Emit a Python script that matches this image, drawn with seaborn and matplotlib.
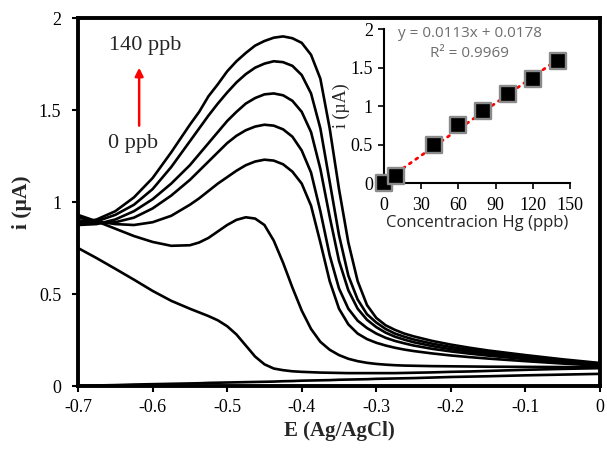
import numpy as np
import pandas as pd
import matplotlib
matplotlib.use("Agg")
import matplotlib.pyplot as plt
import seaborn as sns

# potential grid (V vs Ag/AgCl), finer around the stripping peak
potential = [-0.7, -0.675, -0.65, -0.625, -0.6, -0.575, -0.55,
             -0.5375, -0.525, -0.5125, -0.5, -0.4875, -0.475, -0.4625, -0.45,
             -0.4375, -0.425, -0.4125, -0.4, -0.3875, -0.375, -0.3625, -0.35,
             -0.3375, -0.325, -0.3125, -0.3, -0.2875, -0.275, -0.2625, -0.25,
             -0.225, -0.2, -0.175, -0.15, -0.1, -0.05, 0.0]

# current (uA) for each scan
i_140 = [0.885, 0.905, 0.95, 1.025, 1.13, 1.27, 1.42,
         1.49, 1.575, 1.64, 1.71, 1.765, 1.81, 1.85, 1.875,
         1.893, 1.90, 1.89, 1.865, 1.80, 1.67, 1.40, 1.07,
         0.78, 0.57, 0.44, 0.37, 0.33, 0.305, 0.285, 0.27,
         0.245, 0.225, 0.208, 0.193, 0.168, 0.145, 0.125]
i_120 = [0.88, 0.895, 0.93, 0.985, 1.07, 1.19, 1.33,
         1.40, 1.47, 1.535, 1.595, 1.65, 1.695, 1.73, 1.752,
         1.765, 1.76, 1.74, 1.69, 1.59, 1.40, 1.11, 0.82,
         0.60, 0.47, 0.39, 0.345, 0.31, 0.285, 0.268, 0.253,
         0.23, 0.212, 0.197, 0.184, 0.16, 0.14, 0.122]
i_100 = [0.875, 0.88, 0.905, 0.95, 1.015, 1.10, 1.20,
         1.26, 1.32, 1.38, 1.44, 1.49, 1.535, 1.565, 1.585,
         1.59, 1.58, 1.55, 1.49, 1.38, 1.18, 0.92, 0.68,
         0.52, 0.42, 0.36, 0.32, 0.29, 0.268, 0.252, 0.238,
         0.217, 0.20, 0.187, 0.175, 0.153, 0.135, 0.118]
i_80 = [0.90, 0.885, 0.89, 0.915, 0.965, 1.035, 1.12,
        1.17, 1.22, 1.27, 1.32, 1.36, 1.39, 1.41, 1.42,
        1.415, 1.395, 1.355, 1.28, 1.16, 0.95, 0.71, 0.53,
        0.42, 0.355, 0.315, 0.285, 0.262, 0.245, 0.232, 0.22,
        0.202, 0.188, 0.176, 0.165, 0.146, 0.13, 0.115]
i_60 = [0.915, 0.895, 0.88, 0.875, 0.89, 0.925, 0.985,
        1.02, 1.06, 1.10, 1.135, 1.17, 1.20, 1.22, 1.23,
        1.225, 1.205, 1.165, 1.10, 0.98, 0.78, 0.57, 0.42,
        0.335, 0.285, 0.255, 0.235, 0.22, 0.208, 0.198, 0.19,
        0.177, 0.166, 0.157, 0.149, 0.135, 0.122, 0.11]
i_40 = [0.93, 0.895, 0.855, 0.815, 0.783, 0.762, 0.765,
        0.78, 0.805, 0.84, 0.875, 0.903, 0.917, 0.91, 0.875,
        0.79, 0.67, 0.535, 0.41, 0.31, 0.24, 0.197, 0.168,
        0.148, 0.135, 0.126, 0.12, 0.116, 0.113, 0.111, 0.11,
        0.108, 0.107, 0.106, 0.105, 0.104, 0.103, 0.102]
i_0 = [0.75, 0.695, 0.637, 0.578, 0.517, 0.463, 0.42,
       0.40, 0.38, 0.357, 0.325, 0.28, 0.22, 0.16, 0.118,
       0.095, 0.086, 0.08, 0.077, 0.075, 0.073, 0.072, 0.071,
       0.07, 0.07, 0.07, 0.07, 0.07, 0.07, 0.071, 0.072,
       0.074, 0.077, 0.079, 0.082, 0.088, 0.093, 0.097]
i_base = [0.0, 0.003, 0.005, 0.008, 0.010, 0.012, 0.014,
          0.015, 0.017, 0.018, 0.019, 0.020, 0.021, 0.022, 0.023,
          0.024, 0.026, 0.027, 0.029, 0.030, 0.031, 0.032, 0.034,
          0.035, 0.036, 0.037, 0.039, 0.040, 0.041, 0.042, 0.043,
          0.046, 0.049, 0.051, 0.053, 0.058, 0.062, 0.066]

scans = {"140": i_140, "120": i_120, "100": i_100, "80": i_80,
         "60": i_60, "40": i_40, "0": i_0, "base": i_base}

# calibration (inset)
conc_ppb = [0, 10, 40, 60, 80, 100, 120, 140]
peak_current = [0.0, 0.09, 0.50, 0.75, 0.94, 1.15, 1.35, 1.59]

x_ticks = [-0.7, -0.6, -0.5, -0.4, -0.3, -0.2, -0.1, 0.0]
x_ticklabels = ["-0.7", "-0.6", "-0.5", "-0.4", "-0.3", "-0.2", "-0.1", "0"]
y_ticks = [0, 0.5, 1, 1.5, 2]
y_ticklabels = ["0", "0.5", "1", "1.5", "2"]
inset_xticks = [0, 30, 60, 90, 120, 150]

for k, v in scans.items():
    assert len(v) == len(potential), k

df = pd.concat([pd.DataFrame({"E": potential, "i": v, "scan": k})
                for k, v in scans.items()], ignore_index=True)
cal = pd.DataFrame({"conc": conc_ppb, "i": peak_current})

sns.set_theme(style="white")
plt.rcParams["font.family"] = ["Liberation Serif", "DejaVu Serif"]

fig = plt.figure(figsize=(6.07, 4.49), dpi=100)
ax = fig.add_axes([0.1285, 0.1403, 0.86, 0.8196])

sns.lineplot(data=df, x="E", y="i", hue="scan", palette=["black"] * len(scans),
             sort=False, estimator=None, legend=False, linewidth=1.9, ax=ax)
for ln in ax.lines:
    ln.set_solid_joinstyle("round")

ax.set_xlim(-0.7, 0.0)
ax.set_ylim(0, 2)
ax.set_xticks(x_ticks)
ax.set_xticklabels(x_ticklabels)
ax.set_yticks(y_ticks)
ax.set_yticklabels(y_ticklabels)
ax.tick_params(axis="x", direction="out", length=4, width=1.5, labelsize=13,
               pad=5, bottom=True, colors="black")
ax.tick_params(axis="y", direction="out", length=4, width=1.5, labelsize=13,
               pad=8, left=True, colors="black")
for side in ax.spines.values():
    side.set_linewidth(2.8)
    side.set_color("black")
ax.set_xlabel("E (Ag/AgCl)", fontsize=15, fontweight="bold", labelpad=4)
ax.set_ylabel("i (µA)", fontsize=15.5, fontweight="bold", labelpad=5)

# concentration arrow
ax.annotate("", xy=(-0.618, 1.745), xytext=(-0.618, 1.40),
            arrowprops=dict(arrowstyle="-|>", color="red", lw=1.8,
                            mutation_scale=12))
ax.text(-0.610, 1.848, "140 ppb", fontsize=16, ha="center", va="center")
ax.text(-0.626, 1.32, "0 ppb", fontsize=16, ha="center", va="center")

# inset calibration plot
ins = fig.add_axes([0.6326, 0.5924, 0.3064, 0.343])
ins.set_facecolor("white")
sns.regplot(data=cal, x="conc", y="i", scatter=False, ci=None, ax=ins,
            line_kws=dict(color="red", linestyle=(0, (0.8, 2.0)), linewidth=2,
                          dash_capstyle="round"))
sns.scatterplot(data=cal, x="conc", y="i", marker="s", s=130, color="black",
                edgecolor="#8a8a8a", linewidth=1.7, ax=ins, zorder=3,
                clip_on=False)
ins.set_xlim(0, 150)
ins.set_ylim(0, 2)
ins.set_xticks(inset_xticks)
ins.set_yticks(y_ticks)
ins.set_yticklabels(y_ticklabels)
ins.tick_params(axis="x", direction="out", length=4, width=1.2, labelsize=13,
                bottom=True, colors="black", pad=6)
ins.tick_params(axis="y", direction="out", length=4, width=1.2, labelsize=13,
                left=True, colors="black", pad=4)
sns.despine(ax=ins)
for s in ["left", "bottom"]:
    ins.spines[s].set_linewidth(1.5)
    ins.spines[s].set_color("black")
ins.set_xlabel("Concentracion Hg (ppb)", fontsize=12,
               family=["Open Sans", "DejaVu Sans"], labelpad=1)
ins.set_ylabel("i (µA)", fontsize=13, labelpad=0)
ins.text(0.462, 0.974, "y = 0.0113x + 0.0178", transform=ins.transAxes,
         ha="center", va="center", fontsize=11, color="#6e6e6e",
         family=["Open Sans", "DejaVu Sans"])
ins.text(0.462, 0.844, "R² = 0.9969", transform=ins.transAxes,
         ha="center", va="center", fontsize=11, color="#6e6e6e",
         family=["Open Sans", "DejaVu Sans"])

fig.savefig("out.png", dpi=100)
